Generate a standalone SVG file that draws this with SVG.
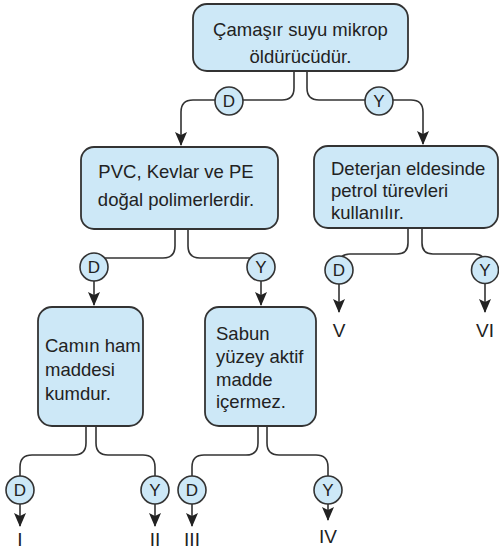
<svg xmlns="http://www.w3.org/2000/svg" width="499" height="549" viewBox="0 0 499 549">
<defs>
<marker id="arr" markerUnits="userSpaceOnUse" markerWidth="14" markerHeight="12" viewBox="0 0 14 12" refX="13" refY="6" orient="auto">
<path d="M0,0 L14,6 L0,12 L3,6 Z" fill="#222"/>
</marker>
</defs>
<style>
.box{fill:#cde8f7;stroke:#333;stroke-width:1.8}
.t{font-family:"Liberation Sans",Arial,sans-serif;font-size:18.5px;fill:#222}
.c{text-anchor:middle}
.circ{fill:#cde8f7;stroke:#333;stroke-width:1.6}
.ct{font-family:"Liberation Sans",Arial,sans-serif;font-size:17px;fill:#222;text-anchor:middle}
.ln{fill:none;stroke:#333;stroke-width:1.6}
.ar{fill:none;stroke:#333;stroke-width:1.6;marker-end:url(#arr)}
.num{font-family:"Liberation Sans",Arial,sans-serif;font-size:19px;fill:#222;text-anchor:middle}
</style>
<rect width="499" height="549" fill="#fff"/>
<g id="connectors">
<path class="ar" d="M294,71 V88 Q294,100 282,100 H193 Q181,100 181,112 V145"/>
<path class="ar" d="M307,71 V88 Q307,100 319,100 H411 Q423,100 423,112 V144"/>
<path class="ln" d="M175,229 V246 Q175,258 163,258 H106 Q94,258 94,270"/>
<path class="ar" d="M94,281 V305"/>
<path class="ln" d="M188,229 V246 Q188,258 200,258 H249 Q261,258 261,270"/>
<path class="ar" d="M261,281 V305"/>
<path class="ln" d="M408,228 V243 Q408,254 397,254 H350 Q339,254 339,265"/>
<path class="ar" d="M339,284 V312"/>
<path class="ln" d="M422,228 V243 Q422,254 433,254 H474 Q485,254 485,265"/>
<path class="ar" d="M485,284 V312"/>
<path class="ln" d="M86,426 V443 Q86,455 74,455 H32 Q20,455 20,467 V476"/>
<path class="ar" d="M20,504 V526"/>
<path class="ln" d="M96,426 V443 Q96,455 108,455 H143 Q155,455 155,467 V476"/>
<path class="ar" d="M155,504 V526"/>
<path class="ln" d="M258,426 V443 Q258,455 246,455 H204 Q192,455 192,467 V476"/>
<path class="ar" d="M192,504 V526"/>
<path class="ln" d="M267,426 V443 Q267,455 279,455 H316 Q328,455 328,467 V476"/>
<path class="ar" d="M328,504 V520"/>
</g>
<g id="labels">
<g id="l1"><circle class="circ" cx="229" cy="101" r="14"/><text class="ct" x="229" y="107">D</text></g>
<g id="l2"><circle class="circ" cx="379" cy="101" r="14"/><text class="ct" x="379" y="107">Y</text></g>
<g id="l3"><circle class="circ" cx="94" cy="267" r="14"/><text class="ct" x="94" y="273">D</text></g>
<g id="l4"><circle class="circ" cx="261" cy="267" r="14"/><text class="ct" x="261" y="273">Y</text></g>
<g id="l5"><circle class="circ" cx="339" cy="270" r="14"/><text class="ct" x="339" y="276">D</text></g>
<g id="l6"><circle class="circ" cx="485" cy="270" r="13.5"/><text class="ct" x="485" y="276">Y</text></g>
<g id="l7"><circle class="circ" cx="20" cy="490" r="14"/><text class="ct" x="20" y="496">D</text></g>
<g id="l8"><circle class="circ" cx="155" cy="490" r="14"/><text class="ct" x="155" y="496">Y</text></g>
<g id="l9"><circle class="circ" cx="192" cy="490" r="14"/><text class="ct" x="192" y="496">D</text></g>
<g id="l10"><circle class="circ" cx="328" cy="490" r="14"/><text class="ct" x="328" y="496">Y</text></g>
</g>
<g id="n1">
<rect class="box" x="193" y="4" width="215" height="67" rx="14"/>
<text class="t c" x="300.5" y="36">Çamaşır suyu mikrop</text>
<text class="t c" x="300.5" y="63">öldürücüdür.</text>
</g>
<g id="n2">
<rect class="box" x="81" y="147" width="197" height="82" rx="13"/>
<text class="t c" x="176" y="178">PVC, Kevlar ve PE</text>
<text class="t c" x="176" y="206">doğal polimerlerdir.</text>
</g>
<g id="n3">
<rect class="box" x="314" y="146" width="184" height="82" rx="14"/>
<text class="t" x="331" y="175">Deterjan eldesinde</text>
<text class="t" x="331" y="197">petrol türevleri</text>
<text class="t" x="331" y="219">kullanılır.</text>
</g>
<g id="n4">
<rect class="box" x="38" y="307" width="105" height="119" rx="14"/>
<text class="t" x="45" y="352">Camın ham</text>
<text class="t" x="45" y="376">maddesi</text>
<text class="t" x="45" y="400">kumdur.</text>
</g>
<g id="n5">
<rect class="box" x="205" y="307" width="111" height="119" rx="14"/>
<text class="t" x="216" y="340">Sabun</text>
<text class="t" x="216" y="363">yüzey aktif</text>
<text class="t" x="216" y="386">madde</text>
<text class="t" x="216" y="408">içermez.</text>
</g>
<g id="results">
<text class="num" x="339" y="337">V</text>
<text class="num" x="485" y="337">VI</text>
<text class="num" x="20" y="546">I</text>
<text class="num" x="155" y="546">II</text>
<text class="num" x="192" y="546">III</text>
<text class="num" x="328" y="543">IV</text>
</g>
</svg>
